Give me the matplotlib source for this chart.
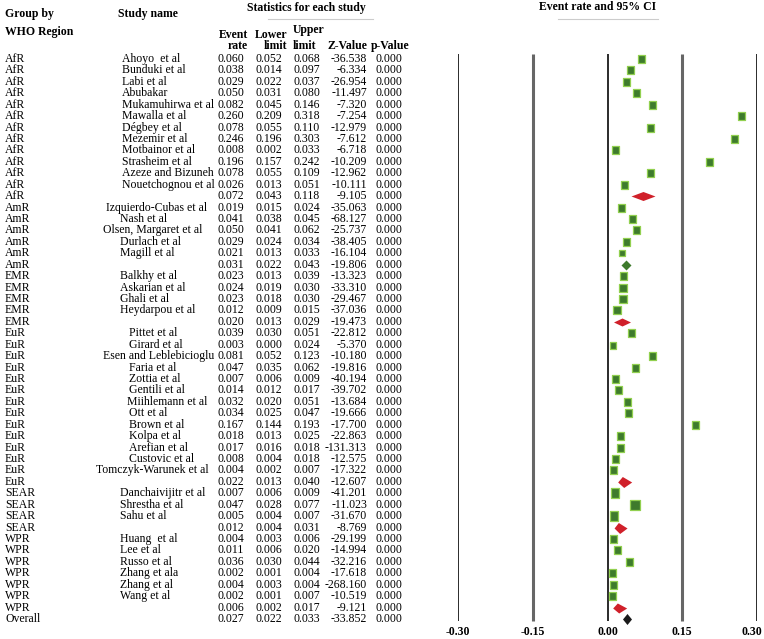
import matplotlib
matplotlib.use("Agg")
import matplotlib.pyplot as plt
import matplotlib.transforms as mtransforms
from matplotlib.path import Path

plt.rcParams['font.family'] = ['Liberation Serif', 'DejaVu Serif']

# ---- data (one entry per row, summary rows have an empty study name) ----
region = (['AfR'] * 13 + ['AmR'] * 6 + ['EMR'] * 5 + ['EuR'] * 14 +
          ['SEAR'] * 4 + ['WPR'] * 7 + ['Overall'])

study = ['Ahoyo  et al', 'Bunduki et al', 'Labi et al', 'Abubakar',
         'Mukamuhirwa et al', 'Mawalla et al', 'Dégbey et al', 'Mezemir et al',
         'Motbainor et al', 'Strasheim et al', 'Azeze and Bizuneh',
         'Nouetchognou et al', '',
         'Izquierdo-Cubas et al', 'Nash et al', 'Olsen, Margaret et al',
         'Durlach et al', 'Magill et al', '',
         'Balkhy et al', 'Askarian et al', 'Ghali et al', 'Heydarpou et al', '',
         'Pittet et al', 'Girard et al', 'Esen and Leblebicioglu', 'Faria et al',
         'Zottia et al', 'Gentili et al', 'Miihlemann et al', 'Ott et al',
         'Brown et al', 'Kolpa et al', 'Arefian et al', 'Custovic et al',
         'Tomczyk-Warunek et al', '',
         'Danchaivijitr et al', 'Shrestha et al', 'Sahu et al', '',
         'Huang  et al', 'Lee et al', 'Russo et al', 'Zhang et ala',
         'Zhang et al', 'Wang et al', '',
         '']

event_rate = [0.060, 0.038, 0.029, 0.050, 0.082, 0.260, 0.078, 0.246, 0.008,
              0.196, 0.078, 0.026, 0.072,
              0.019, 0.041, 0.050, 0.029, 0.021, 0.031,
              0.023, 0.024, 0.023, 0.012, 0.020,
              0.039, 0.003, 0.081, 0.047, 0.007, 0.014, 0.032, 0.034, 0.167,
              0.018, 0.017, 0.008, 0.004, 0.022,
              0.007, 0.047, 0.005, 0.012,
              0.004, 0.011, 0.036, 0.002, 0.004, 0.002, 0.006,
              0.027]

lower_limit = [0.052, 0.014, 0.022, 0.031, 0.045, 0.209, 0.055, 0.196, 0.002,
               0.157, 0.055, 0.013, 0.043,
               0.015, 0.038, 0.041, 0.024, 0.013, 0.022,
               0.013, 0.019, 0.018, 0.009, 0.013,
               0.030, 0.000, 0.052, 0.035, 0.006, 0.012, 0.020, 0.025, 0.144,
               0.013, 0.016, 0.004, 0.002, 0.013,
               0.006, 0.028, 0.004, 0.004,
               0.003, 0.006, 0.030, 0.001, 0.003, 0.001, 0.002,
               0.022]

upper_limit = [0.068, 0.097, 0.037, 0.080, 0.146, 0.318, 0.110, 0.303, 0.033,
               0.242, 0.109, 0.051, 0.118,
               0.024, 0.045, 0.062, 0.034, 0.033, 0.043,
               0.039, 0.030, 0.030, 0.015, 0.029,
               0.051, 0.024, 0.123, 0.062, 0.009, 0.017, 0.051, 0.047, 0.193,
               0.025, 0.018, 0.018, 0.007, 0.040,
               0.009, 0.077, 0.007, 0.031,
               0.006, 0.020, 0.044, 0.004, 0.004, 0.007, 0.017,
               0.033]

z_value = [-36.538, -6.334, -26.954, -11.497, -7.320, -7.254, -12.979, -7.612,
           -6.718, -10.209, -12.962, -10.111, -9.105,
           -35.063, -68.127, -25.737, -38.405, -16.104, -19.806,
           -13.323, -33.310, -29.467, -37.036, -19.473,
           -22.812, -5.370, -10.180, -19.816, -40.194, -39.702, -13.684,
           -19.666, -17.700, -22.863, -131.313, -12.575, -17.322, -12.607,
           -41.201, -11.023, -31.670, -8.769,
           -29.199, -14.994, -32.216, -17.618, -268.160, -10.519, -9.121,
           -33.852]

p_value = [0.000] * 50

ticks = [-0.30, -0.15, 0.00, 0.15, 0.30]

# ---- layout (pixels of the 764x639 picture) ----
W, H = 764, 639
Y0, ROW = 59, 11.43
FS = 8.5

fig = plt.figure(figsize=(W / 100, H / 100), dpi=100)
ax = fig.add_axes([458 / W, 0, (757 - 458) / W, 1])
ax.set_xlim(-0.3, 0.3)
ax.set_ylim((H - Y0) / ROW, -Y0 / ROW)
ax.axis('off')

# vertical reference lines
line_col = ['#1a1a1a', '#666666', '#1a1a1a', '#666666', '#1a1a1a']
line_w = [1.3, 2.2, 1.3, 2.2, 1.3]
for t, c, lw in zip(ticks, line_col, line_w):
    ax.vlines(t, (54 - Y0) / ROW, (621 - Y0) / ROW, color=c, lw=lw, zorder=1)

# tick labels under the lines (the last one nudged to stay inside)
label_shift = [0, 0, 0, 0, -5]
for t, dx in zip(ticks, label_shift):
    ttr = mtransforms.offset_copy(ax.transData, fig=fig, x=dx, y=0, units='dots')
    ax.text(t, (632 - Y0) / ROW, f'{t:.2f}', transform=ttr, ha='center',
            va='center', fontsize=FS, fontweight='bold', clip_on=False)


def fig_text(px, py, s, ha='left', bold=False, size=FS):
    fig.text(px / W, 1 - py / H, s, ha=ha, va='center', fontsize=size,
             fontweight='bold' if bold else 'normal')


# headers
fig_text(5, 14, 'Group by', bold=True)
fig_text(5, 32, 'WHO Region', bold=True)
fig_text(118, 14, 'Study name', bold=True)
fig_text(306, 8, 'Statistics for each study', ha='center', bold=True)
fig_text(598, 7, 'Event rate and 95% CI', ha='center', bold=True)
fig_text(248, 35, 'Event', ha='right', bold=True)
fig_text(248, 46, 'rate', ha='right', bold=True)
fig_text(287, 35, 'Lower', ha='right', bold=True)
fig_text(287, 46, 'limit', ha='right', bold=True)
fig_text(293, 30, 'Upper', bold=True)
fig_text(293, 46, 'limit', bold=True)
fig_text(328, 46, 'Z-Value', bold=True)
fig_text(371, 46, 'p-Value', bold=True)
for x1, x2 in [(268, 373), (558, 658)]:
    fig.add_artist(plt.Line2D([x1 / W, x2 / W], [1 - 19 / H, 1 - 19 / H],
                              color='#cccccc', lw=0.8))

# table text, y in rows of the forest axes
tr = mtransforms.blended_transform_factory(fig.transFigure, ax.transData)
name_x = {'AfR': 122, 'AmR': 120, 'EMR': 120, 'EuR': 129, 'SEAR': 120, 'WPR': 120}
name_x_special = {'Izquierdo-Cubas et al': 106, 'Olsen, Margaret et al': 103,
                  'Esen and Leblebicioglu': 103, 'Tomczyk-Warunek et al': 96,
                  'Miihlemann et al': 127}


def row_text(px, i, s, ha='left'):
    ax.text(px / W, i, s, transform=tr, ha=ha, va='center', fontsize=FS,
            clip_on=False)


for i in range(len(region)):
    row_text(5, i, region[i])
    if study[i]:
        nx = name_x_special.get(study[i], name_x.get(region[i], 118))
        row_text(nx, i, study[i])
    row_text(244, i, f'{event_rate[i]:.3f}', ha='right')
    row_text(282, i, f'{lower_limit[i]:.3f}', ha='right')
    row_text(293, i, f'{upper_limit[i]:.3f}')
    row_text(367, i, f'{z_value[i]:.3f}', ha='right')
    row_text(402, i, f'{p_value[i]:.3f}', ha='right')

# study boxes
box_px = {'Danchaivijitr et al': 10, 'Shrestha et al': 10.5, 'Sahu et al': 10,
          'Askarian et al': 8.5, 'Ghali et al': 8.5, 'Heydarpou et al': 8.5,
          'Magill et al': 6.5, 'Girard et al': 7}
box_path = Path([(-3.5, -4), (3.5, -4), (3.5, 4), (-3.5, 4), (-3.5, -4)],
                closed=True)
box_tr = mtransforms.offset_copy(ax.transData, fig=fig, x=4, y=0, units='dots')
for i in range(len(region)):
    if not study[i] or region[i] == 'Overall':
        continue
    sz = box_px.get(study[i], 8)
    ax.plot(event_rate[i], i, marker=box_path, markersize=sz * 0.72,
            color='#3e7b2c', markeredgecolor='#92d050', markeredgewidth=0.9,
            transform=box_tr, zorder=3, clip_on=False)

# summary diamonds: colour, width, height (px), shift (px), kite shape
sum_style = {'AfR': ('#d0202a', 24, 9, 0, False),
             'AmR': ('#3e7b2c', 10, 10, 3, False),
             'EMR': ('#d0202a', 17, 8, 5, False),
             'EuR': ('#d0202a', 14, 11, 5, True),
             'SEAR': ('#d0202a', 13, 11, 6, True),
             'WPR': ('#d0202a', 14, 10, 8, True),
             'Overall': ('#1a1a1a', 9, 11, 6, False)}
for i in range(len(region)):
    if study[i]:
        continue
    col, w, h, sh, kite = sum_style[region[i]]
    if kite:
        verts = [(-0.38 * w, 0), (-0.05 * w, h / 2), (0.62 * w, 0),
                 (0.05 * w, -h / 2), (-0.38 * w, 0)]
    else:
        verts = [(-w / 2, 0), (0, h / 2), (w / 2, 0), (0, -h / 2), (-w / 2, 0)]
    m = max(max(abs(a), abs(b)) for a, b in verts)
    dtr = mtransforms.offset_copy(ax.transData, fig=fig, x=sh, y=0, units='dots')
    ax.plot(event_rate[i], i, marker=Path(verts, closed=True),
            markersize=2 * m * 0.72, color=col, markeredgewidth=0,
            transform=dtr, zorder=4, clip_on=False)

fig.savefig('out.png', dpi=100)
